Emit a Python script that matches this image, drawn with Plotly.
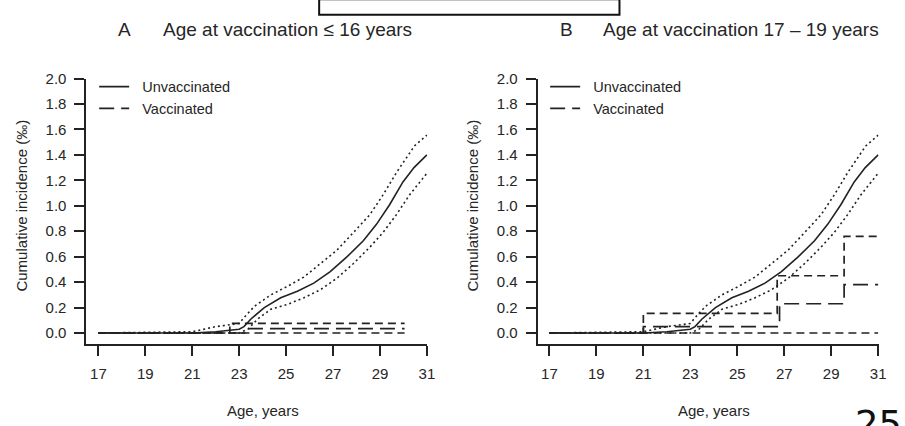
import plotly.graph_objects as go

W, H = 905, 426

# ---------------- data ----------------
x_ticks = [17, 19, 21, 23, 25, 27, 29, 31]
y_ticks = [0.0, 0.2, 0.4, 0.6, 0.8, 1.0, 1.2, 1.4, 1.6, 1.8, 2.0]
y_tick_labels = ["0.0", "0.2", "0.4", "0.6", "0.8", "1.0", "1.2", "1.4", "1.6", "1.8", "2.0"]

# Unvaccinated (same reference curve in both panels)
unvac_est_age = [17, 19, 21, 22, 23.0, 23.2, 23.5, 24.07, 24.77, 25.48, 26.18, 26.88, 27.59,
                 28.29, 28.85, 29.41, 29.98, 30.45, 31.0]
unvac_est = [0, 0, 0.0, 0.01, 0.03, 0.05, 0.11, 0.20, 0.277, 0.328, 0.392, 0.482, 0.598,
             0.725, 0.854, 1.008, 1.187, 1.30, 1.40]
unvac_up_age = [17, 21, 22, 23.0, 23.2, 23.65, 24.35, 25.06, 25.76, 26.46, 27.16, 27.87,
                28.57, 29.13, 29.7, 30.47, 31.0]
unvac_up = [0, 0.01, 0.05, 0.075, 0.12, 0.21, 0.30, 0.367, 0.44, 0.546, 0.65, 0.79,
            0.93, 1.085, 1.26, 1.47, 1.555]
unvac_lo_age = [17, 23.0, 23.37, 23.79, 24.35, 25.06, 25.76, 26.46, 27.16, 27.87, 28.57,
                29.13, 29.7, 30.26, 31.0]
unvac_lo = [0, 0.0, 0.03, 0.11, 0.187, 0.225, 0.277, 0.34, 0.43, 0.546, 0.675,
            0.79, 0.93, 1.085, 1.255]

# Vaccinated, panel A (age at vaccination <= 16)
vacA_est_age = [17, 23.3, 30.05]
vacA_est = [0, 0.035, 0.035]
vacA_up_age = [17, 22.6, 30.05]
vacA_up = [0, 0.075, 0.075]
vacA_lo_age = [17, 30.05]
vacA_lo = [0, 0]

# Vaccinated, panel B (age at vaccination 17-19)
vacB_est_age = [17, 21.0, 26.8, 29.55, 31.0]
vacB_est = [0, 0.05, 0.23, 0.38, 0.38]
vacB_up_age = [17, 21.0, 26.7, 29.55, 31.0]
vacB_up = [0, 0.155, 0.45, 0.76, 0.76]
vacB_lo_age = [17, 31.0]
vacB_lo = [0, 0]

titles = [("A", "Age at vaccination \u2264 16 years"),
          ("B", "Age at vaccination 17 \u2013 19 years")]
x_title = "Age, years"
y_title = "Cumulative incidence (\u2030)"
legend_names = ["\u00a0\u00a0Unvaccinated", "\u00a0\u00a0Vaccinated"]
page_number = "25"

# ---------------- helpers ----------------
def px(v):
    return v / W

def py(v):
    return 1 - v / H

LINE = "#222222"
TEXT = "#262626"
FONT = "Liberation Sans, Arial, sans-serif"

EST_DASH = "15px,7px"
CI_DASH = "8px,5px"
DOT = "2px,3px"

fig = go.Figure()

panels = [
    dict(xa="x", ya="y", leg="legend", vac=(vacA_est_age, vacA_est, vacA_up_age, vacA_up, vacA_lo_age, vacA_lo)),
    dict(xa="x2", ya="y2", leg="legend2", vac=(vacB_est_age, vacB_est, vacB_up_age, vacB_up, vacB_lo_age, vacB_lo)),
]

for p in panels:
    xa, ya, leg = p["xa"], p["ya"], p["leg"]
    ea, ev, ua, uv, la, lv = p["vac"]
    fig.add_trace(go.Scatter(x=unvac_up_age, y=unvac_up, mode="lines", xaxis=xa, yaxis=ya,
                             line=dict(color=LINE, width=1.6, dash=DOT), showlegend=False,
                             hoverinfo="skip"))
    fig.add_trace(go.Scatter(x=unvac_lo_age, y=unvac_lo, mode="lines", xaxis=xa, yaxis=ya,
                             line=dict(color=LINE, width=1.6, dash=DOT), showlegend=False,
                             hoverinfo="skip"))
    fig.add_trace(go.Scatter(x=ua, y=uv, mode="lines", xaxis=xa, yaxis=ya,
                             line=dict(color=LINE, width=1.7, dash=CI_DASH, shape="hv"),
                             showlegend=False, hoverinfo="skip"))
    fig.add_trace(go.Scatter(x=la, y=lv, mode="lines", xaxis=xa, yaxis=ya,
                             line=dict(color=LINE, width=1.7, dash=CI_DASH, shape="hv"),
                             showlegend=False, hoverinfo="skip"))
    fig.add_trace(go.Scatter(x=unvac_est_age, y=unvac_est, mode="lines", xaxis=xa, yaxis=ya,
                             name=legend_names[0], legend=leg,
                             line=dict(color=LINE, width=1.6)))
    fig.add_trace(go.Scatter(x=ea, y=ev, mode="lines", xaxis=xa, yaxis=ya,
                             name=legend_names[1], legend=leg,
                             line=dict(color=LINE, width=1.7, dash=EST_DASH, shape="hv")))

# ---------------- axes ----------------
ppy = 23.67  # pixels per year
ppu = 130.0  # pixels per unit

def xaxis_cfg(left_px, tick17_px, tick31_px):
    return dict(
        domain=[px(left_px), px(tick31_px + 0.5)],
        range=[17 - (tick17_px - left_px) / ppy, 31 + 0.5 / ppy],
        tickmode="array", tickvals=x_ticks, ticktext=[str(t) for t in x_ticks],
        showline=True, linecolor=LINE, linewidth=1.6,
        ticks="outside", ticklen=10, tickwidth=1.6, tickcolor=LINE,
        showgrid=False, zeroline=False,
        tickfont=dict(family=FONT, size=15, color=TEXT),
        ticklabelstandoff=5, fixedrange=True,
    )

def yaxis_cfg(anchor):
    return dict(
        domain=[py(342), py(71)],
        range=[-(342 - 331) / ppu, 2.0],
        tickmode="array", tickvals=y_ticks, ticktext=y_tick_labels,
        showline=True, linecolor=LINE, linewidth=1.6,
        ticks="outside", ticklen=10, tickwidth=1.6, tickcolor=LINE,
        showgrid=False, zeroline=False,
        tickfont=dict(family=FONT, size=15, color=TEXT),
        ticklabelstandoff=5, anchor=anchor, fixedrange=True,
    )

fig.update_layout(
    width=W, height=H,
    margin=dict(l=0, r=0, t=0, b=0),
    paper_bgcolor="white", plot_bgcolor="white",
    font=dict(family=FONT, color=TEXT),
    xaxis=dict(xaxis_cfg(87, 99.3, 430.7), anchor="y"),
    yaxis=yaxis_cfg("x"),
    xaxis2=dict(xaxis_cfg(542.3, 554.3, 886), anchor="y2"),
    yaxis2=yaxis_cfg("x2"),
    legend=dict(x=px(95), y=py(63), xanchor="left", yanchor="top",
                font=dict(family=FONT, size=14.5, color=TEXT), bgcolor="rgba(0,0,0,0)",
                itemwidth=30, tracegroupgap=0),
    legend2=dict(x=px(550), y=py(63), xanchor="left", yanchor="top",
                 font=dict(family=FONT, size=14.5, color=TEXT), bgcolor="rgba(0,0,0,0)",
                 itemwidth=30, tracegroupgap=0),
)

ann = []
for (letter, txt), (lx, tx) in zip(titles, [(126, 162), (572, 606)]):
    ann.append(dict(text=letter, x=px(lx), y=py(21), xref="paper", yref="paper",
                    xanchor="center", yanchor="middle", showarrow=False,
                    font=dict(family=FONT, size=19, color=TEXT)))
    ann.append(dict(text=txt, x=px(tx), y=py(21), xref="paper", yref="paper",
                    xanchor="left", yanchor="middle", showarrow=False,
                    font=dict(family=FONT, size=19, color=TEXT)))
for cx in [265, 720]:
    ann.append(dict(text=x_title, x=px(cx), y=py(410), xref="paper", yref="paper",
                    xanchor="center", yanchor="middle", showarrow=False,
                    font=dict(family=FONT, size=15, color=TEXT)))
for cx in [22, 477]:
    ann.append(dict(text=y_title, x=px(cx), y=py(201), xref="paper", yref="paper",
                    xanchor="center", yanchor="middle", showarrow=False, textangle=-90,
                    font=dict(family=FONT, size=15, color=TEXT)))
ann.append(dict(text=page_number, x=px(861), y=py(424), xref="paper", yref="paper",
                xanchor="left", yanchor="middle", showarrow=False,
                font=dict(family="DejaVu Sans, sans-serif", size=37, color="#111")))
fig.update_layout(annotations=ann)

fig.add_shape(type="rect", xref="paper", yref="paper",
              x0=px(322), x1=px(625), y0=py(6), y1=py(-10),
              line=dict(color="#111", width=2), fillcolor="rgba(0,0,0,0)")

fig.write_html("out.html", config={"displayModeBar": False},
               post_script="document.body.style.margin='0';document.body.style.overflow='hidden';")
